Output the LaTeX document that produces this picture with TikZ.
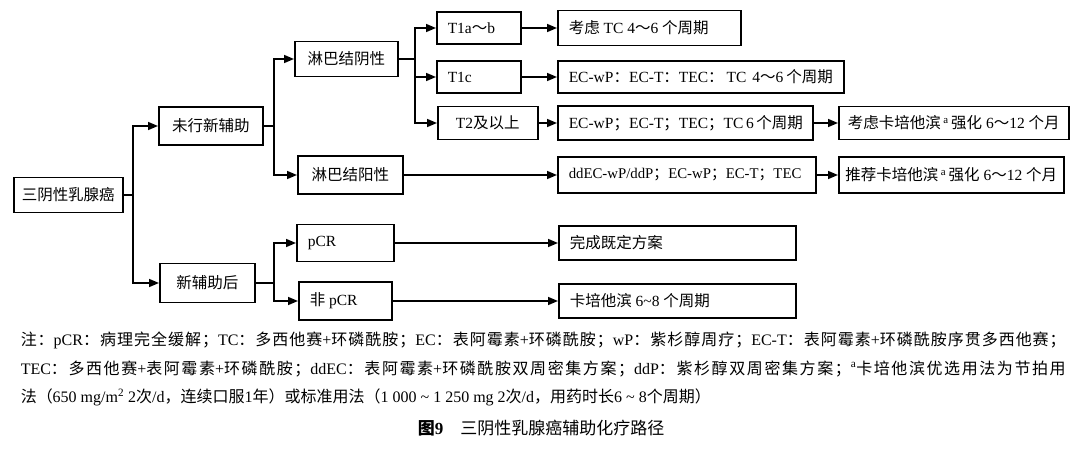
\documentclass[tikz,border=0pt]{standalone}
\usepackage{fontspec}
\setmainfont{Liberation Serif}
\newfontfamily\cjk{Noto Sans CJK SC}
\usetikzlibrary{arrows.meta, positioning, calc}

% Chinese characters switch to the CJK font
\XeTeXinterchartokenstate=1
\newXeTeXintercharclass\cjkclass
\count255="3000
\loop
  \XeTeXcharclass\count255=\cjkclass
  \ifnum\count255<"9FFF \advance\count255 by 1
\repeat
\count255="FF00
\loop
  \XeTeXcharclass\count255=\cjkclass
  \ifnum\count255<"FFEF \advance\count255 by 1
\repeat
\XeTeXinterchartoks 0 \cjkclass = {\begingroup\cjk}
\XeTeXinterchartoks 4095 \cjkclass = {\begingroup\cjk}
\XeTeXinterchartoks \cjkclass 0 = {\endgroup}
\XeTeXinterchartoks \cjkclass 4095 = {\endgroup}
\XeTeXinterchartoks \cjkclass \cjkclass = {\hskip 0pt plus 3pt\relax}

\begin{document}
\begin{tikzpicture}[
      x=1pt, y=-1pt,
      box/.style={draw, line width=1.5pt, anchor=west, minimum height=35pt,
        inner ysep=0pt, font=\fontsize{15.5}{19}\selectfont},
      cbox/.style={box, minimum width=#1pt},
      lbox/.style={box, inner xsep=11pt, minimum width=#1pt,
        execute at begin node={\hbox to \dimexpr#1pt-22pt\relax\bgroup},
        execute at end node={\hfil\egroup}},
      note/.style={anchor=north west, inner sep=0pt, text width=1045pt,
        align=justify, font=\fontsize{16}{28.7}\selectfont},
      >={Triangle[length=10pt, width=8pt]},
      every path/.style={line width=1.5pt}
    ]
    \useasboundingbox (0,0) rectangle (1080,450);
    % left part
    \node [cbox=109] (tnbc) at (13,195) {三阴性乳腺癌};
    \node [cbox=104, minimum height=38pt] (nona) at (158,126) {未行新辅助};
    \node [cbox=95, minimum height=39pt] (neo) at (159,283) {新辅助后};
    \node [cbox=103] (nneg) at (294,59) {淋巴结阴性};
    \node [cbox=105, minimum height=38pt] (npos) at (297,175) {淋巴结阳性};
    \node [lbox=84, minimum height=32pt] (t1ab) at (436,28) {T1a～b};
    \node [lbox=84, minimum height=32pt] (t1c) at (436,77) {T1c};
    \node [cbox=100, minimum height=33pt] (t2) at (437,123) {T2及以上};
    \node [lbox=97, minimum height=37pt] (pcr) at (296,243) {pCR};
    \node [lbox=93, minimum height=38pt] (npcr) at (298,301) {非 pCR};
    % right part
    \node [lbox=183, minimum height=35pt] (r1) at (557,28) {考虑 TC 4～6 个周期};
    \node [lbox=286, minimum height=32pt] (r2) at (557,77) {EC-wP：EC-T：TEC： TC\ \ 4～6 个周期};
    \node [lbox=255, minimum height=34pt] (r3) at (557,123) {EC-wP；EC-T；TEC；TC 6 个周期};
    \node [cbox=230, minimum height=33pt] (r3b) at (838,123) {考虑卡培他滨\,\textsuperscript{a}\,强化 6～12 个月};
    \node [lbox=258, minimum height=36pt, font=\fontsize{14.8}{19}\selectfont] (r4) at (557,175) {ddEC-wP/ddP；EC-wP；EC-T；TEC};
    \node [cbox=225, minimum height=36pt] (r4b) at (838,175) {推荐卡培他滨\,\textsuperscript{a}\,强化 6～12 个月};
    \node [lbox=237, minimum height=34pt] (r5) at (558,243) {完成既定方案};
    \node [lbox=237, minimum height=34pt] (r6) at (558,301) {卡培他滨 6\textasciitilde 8 个周期};
    % forks
    \coordinate (f1) at (133,0);
    \coordinate (f2) at (274,0);
    \coordinate (f3) at (415,0);
    \draw [->] (tnbc.east) -| (f1 |- nona.west) -- (nona.west);
    \draw [->] (tnbc.east) -| (f1 |- neo.west) -- (neo.west);
    \draw [->] (nona.east) -| (f2 |- nneg.west) -- (nneg.west);
    \draw [->] (nona.east) -| (f2 |- npos.west) -- (npos.west);
    \draw [->] (neo.east) -| (f2 |- pcr.west) -- (pcr.west);
    \draw [->] (neo.east) -| (f2 |- npcr.west) -- (npcr.west);
    \draw [->] (nneg.east) -| (f3 |- t1ab.west) -- (t1ab.west);
    \draw [->] (nneg.east) -| (f3 |- t1c.west) -- (t1c.west);
    \draw [->] (nneg.east) -| (f3 |- t2.west) -- (t2.west);
    \draw [->] (t1ab) -- (r1);
    \draw [->] (t1c) -- (r2);
    \draw [->] (t2) -- (r3);
    \draw [->] (r3) -- (r3b);
    \draw [->] (npos) -- (r4);
    \draw [->] (r4) -- (r4b);
    \draw [->] (pcr) -- (r5);
    \draw [->] (npcr) -- (r6);
    % notes and caption
    \node [note] (notes) at (20,331) {注：pCR：病理完全缓解；TC：多西他赛+环磷酰胺；EC：表阿霉素+环磷酰胺；wP：紫杉醇周疗；EC-T：表阿霉素+环磷酰胺序贯多西他赛；\linebreak
      TEC：多西他赛+表阿霉素+环磷酰胺；ddEC：表阿霉素+环磷酰胺双周密集方案；ddP：紫杉醇双周密集方案；\textsuperscript{a}卡培他滨优选用法为节拍用\linebreak
      法（650 mg/m\textsuperscript{2} 2次/d，连续口服1年）或标准用法（1 000 \textasciitilde\ 1 250 mg 2次/d，用药时长6 \textasciitilde\ 8个周期）};
    \node [font=\fontsize{17}{20}\selectfont] (cap) at (541,428) {\textbf{图9}\quad 三阴性乳腺癌辅助化疗路径};
\end{tikzpicture}
\end{document}
